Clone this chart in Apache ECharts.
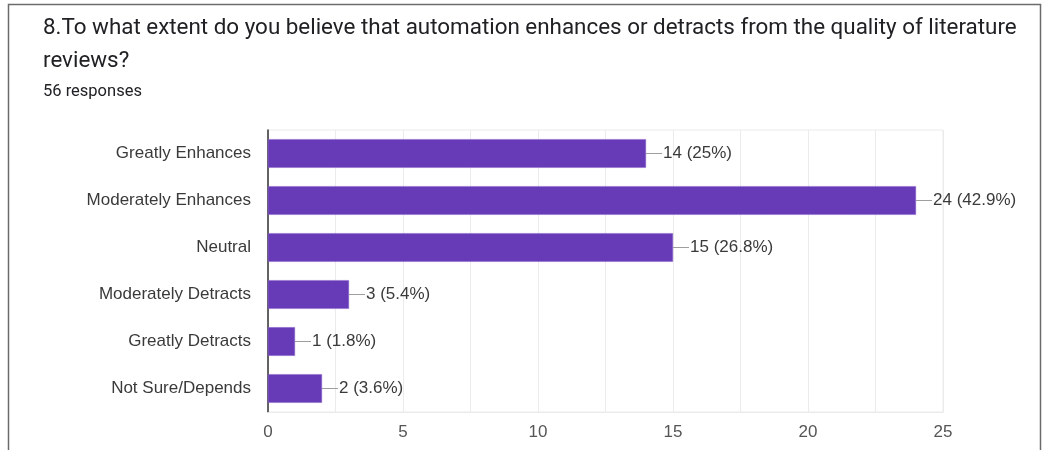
<!DOCTYPE html>
<html>
<head>
<meta charset="utf-8">
<script src="https://cdn.jsdelivr.net/npm/echarts@6/dist/echarts.min.js"></script>
<style>
  html, body { margin: 0; padding: 0; background: #fff; }
  #chart { width: 1045px; height: 450px; }
</style>
</head>
<body>
<div id="chart"></div>
<script>
// Survey answers, top to bottom
const categories = ['Greatly Enhances', 'Moderately Enhances', 'Neutral', 'Moderately Detracts', 'Greatly Detracts', 'Not Sure/Depends'];
const counts = [14, 24, 15, 3, 1, 2];
const percentLabels = ['25%', '42.9%', '26.8%', '5.4%', '1.8%', '3.6%'];
const xTicks = [0, 5, 10, 15, 20, 25];

const chart = echarts.init(document.getElementById('chart'), null, { renderer: 'canvas' });

const labelFont = 'Liberation Sans, Arial';

const option = {
  animation: false,
  backgroundColor: '#fff',
  graphic: [
    { type: 'rect', shape: { x: 8.5, y: 4.5, width: 1032, height: 460 }, style: { fill: 'none', stroke: '#6b6b6b', lineWidth: 1.5 }, silent: true },
    { type: 'text', left: 43, top: 17, style: { text: '8.To what extent do you believe that automation enhances or detracts from the quality of literature', font: '22.4px Roboto', fill: '#202124' } },
    { type: 'text', left: 43, top: 50, style: { text: 'reviews?', font: '22.4px Roboto', fill: '#202124' } },
    { type: 'text', left: 43, top: 83, style: { text: '56 responses', font: '16.5px Roboto', fill: '#202124' } }
  ],
  grid: {
    left: 268, right: 102, top: 130, bottom: 38, containLabel: false,
    show: true, borderColor: '#ebebeb', borderWidth: 1, backgroundColor: 'transparent'
  },
  xAxis: {
    type: 'value',
    min: 0, max: 25, interval: 2.5,
    axisLine: { show: true, lineStyle: { color: '#ebebeb', width: 1 } },
    axisTick: { show: false },
    splitLine: { show: true, lineStyle: { color: '#ebebeb', width: 1 } },
    axisLabel: {
      color: '#555', fontSize: 17, fontFamily: labelFont, margin: 12,
      formatter: v => (xTicks.indexOf(v) >= 0 ? String(v) : '')
    }
  },
  yAxis: {
    type: 'category',
    inverse: true,
    data: categories,
    axisLine: { show: true, lineStyle: { color: '#333', width: 1.5 } },
    axisTick: { show: false },
    axisLabel: { color: '#3a3a3a', fontSize: 17, fontFamily: labelFont, margin: 17 }
  },
  series: [{
    type: 'bar',
    data: counts,
    barCategoryGap: '39%',
    itemStyle: { color: '#673ab7', borderColor: '#8a63cc', borderWidth: 0.5 },
    label: {
      show: true,
      position: 'right',
      distance: 0,
      formatter: p => '{ln|}{v|' + p.value + ' (' + percentLabels[p.dataIndex] + ')}',
      rich: {
        ln: { width: 16, height: 1, backgroundColor: '#9e9e9e' },
        v: { color: '#3a3a3a', fontSize: 17, fontFamily: labelFont, padding: [0, 0, 0, 1] }
      }
    }
  }]
};

chart.setOption(option);
</script>
</body>
</html>
